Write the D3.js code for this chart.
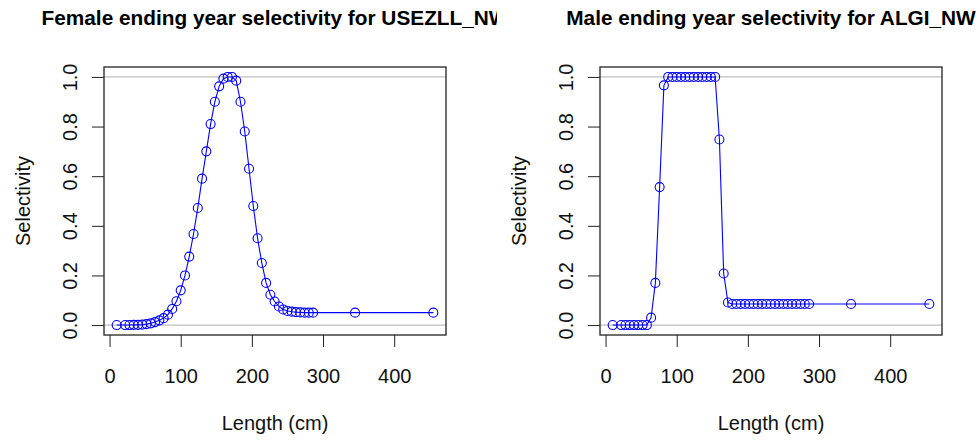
<!DOCTYPE html>
<html>
<head>
<meta charset="utf-8">
<script src="https://cdn.jsdelivr.net/npm/d3@7"></script>
<style>
  body { margin: 0; background: #fff; }
  svg { display: block; font-family: "Liberation Sans", Arial, sans-serif; }
</style>
</head>
<body>
<div id="chart"></div>
<script>
// length bins (cm)
const lengths = [10, 22, 28, 34, 40, 46, 52, 58, 64, 70, 76, 82, 88, 94, 100, 106, 112, 118, 124, 130,
  136, 142, 148, 154, 160, 166, 172, 178, 184, 190, 196, 202, 208, 214, 220, 226, 232, 238, 244, 250,
  256, 262, 268, 274, 280, 286, 345, 455];

const femaleSelectivity = [0, 0, 0, 0.001, 0.001, 0.002, 0.004, 0.007, 0.012, 0.019, 0.028, 0.042, 0.065, 0.096, 0.14, 0.2, 0.276, 0.367, 0.472, 0.59,
  0.7, 0.81, 0.9, 0.962, 0.993, 1, 1, 0.985, 0.9, 0.78, 0.63, 0.48, 0.35, 0.25, 0.17, 0.122, 0.095, 0.075, 0.063, 0.057,
  0.054, 0.052, 0.051, 0.05, 0.05, 0.05, 0.05, 0.05];

const maleSelectivity = [0, 0, 0, 0, 0, 0, 0, 0, 0.03, 0.17, 0.556, 0.966, 1, 1, 1, 1, 1, 1, 1, 1,
  1, 1, 1, 1, 0.748, 0.208, 0.091, 0.085, 0.085, 0.085, 0.085, 0.085, 0.085, 0.085, 0.085, 0.085, 0.085, 0.085, 0.085, 0.085,
  0.085, 0.085, 0.085, 0.085, 0.085, 0.085, 0.085, 0.085];

const xTicks = [0, 100, 200, 300, 400];
const yTicks = [0, 0.2, 0.4, 0.6, 0.8, 1.0];
const refLines = [0, 1];

const panels = [
  { title: "Female ending year selectivity for USEZLL_NW", values: femaleSelectivity, left: 104, right: 446, clip: 497 },
  { title: "Male ending year selectivity for ALGI_NW", values: maleSelectivity, left: 600, right: 942, clip: 977 }
];

const width = 977, height = 443;
const plotTop = 67, plotBottom = 335;

const svg = d3.select("#chart").append("svg")
  .attr("width", width)
  .attr("height", height);

panels.forEach((p, i) => {
  const x = d3.scaleLinear().domain([-7.8, 472.8]).range([p.left, p.right]);
  const y = d3.scaleLinear().domain([-0.04, 1.04]).range([plotBottom, plotTop]);
  const g = svg.append("g");

  // grey reference lines at 0 and 1
  g.selectAll(".ref")
    .data(refLines)
    .enter().append("line")
    .attr("class", "ref")
    .attr("x1", p.left).attr("x2", p.right)
    .attr("y1", d => y(d)).attr("y2", d => y(d))
    .attr("stroke", "#bebebe")
    .attr("stroke-width", 1.2);

  const pts = lengths.map((l, j) => ({ l, s: p.values[j] }));

  g.append("path")
    .datum(pts)
    .attr("fill", "none")
    .attr("stroke", "#0000ff")
    .attr("stroke-width", 1.1)
    .attr("d", d3.line().x(d => x(d.l)).y(d => y(d.s)));

  g.selectAll(".pt")
    .data(pts)
    .enter().append("circle")
    .attr("class", "pt")
    .attr("cx", d => x(d.l))
    .attr("cy", d => y(d.s))
    .attr("r", 4.5)
    .attr("fill", "none")
    .attr("stroke", "#0000ff")
    .attr("stroke-width", 1.1);

  // x axis
  const xa = g.append("g")
    .attr("transform", `translate(0,${plotBottom})`)
    .call(d3.axisBottom(x).tickValues(xTicks).tickSize(12).tickSizeOuter(0));
  xa.select(".domain").remove();
  xa.selectAll(".tick line").attr("stroke", "#222");
  xa.selectAll("text")
    .attr("y", 48).attr("dy", null)
    .attr("font-size", 20)
    .attr("font-family", null)
    .attr("fill", "#111");

  // y axis
  const ya = g.append("g")
    .attr("transform", `translate(${p.left},0)`)
    .call(d3.axisLeft(y).tickValues(yTicks).tickSize(12).tickSizeOuter(0).tickFormat(d3.format(".1f")));
  ya.select(".domain").remove();
  ya.selectAll(".tick line").attr("stroke", "#222");
  ya.selectAll("text")
    .attr("x", null).attr("dy", null)
    .attr("transform", "translate(-27,0) rotate(-90)")
    .attr("text-anchor", "middle")
    .attr("font-size", 20)
    .attr("font-family", null)
    .attr("fill", "#111");

  // frame
  g.append("rect")
    .attr("x", p.left).attr("y", plotTop)
    .attr("width", p.right - p.left).attr("height", plotBottom - plotTop)
    .attr("fill", "none")
    .attr("stroke", "#222")
    .attr("stroke-width", 1.3);

  // labels
  g.append("text")
    .attr("x", (p.left + p.right) / 2)
    .attr("y", 430)
    .attr("text-anchor", "middle")
    .attr("font-size", 20)
    .attr("fill", "#111")
    .text("Length (cm)");

  g.append("text")
    .attr("transform", `translate(${p.left - 74},${(plotTop + plotBottom) / 2}) rotate(-90)`)
    .attr("text-anchor", "middle")
    .attr("font-size", 20)
    .attr("fill", "#111")
    .text("Selectivity");

  svg.append("clipPath")
    .attr("id", `clip${i}`)
    .append("rect")
    .attr("x", i === 0 ? 0 : p.clip - 480).attr("y", 0)
    .attr("width", i === 0 ? p.clip : 480).attr("height", 60);

  g.append("text")
    .attr("clip-path", `url(#clip${i})`)
    .attr("x", (p.left + p.right) / 2)
    .attr("y", 25)
    .attr("text-anchor", "middle")
    .attr("font-size", 20.8)
    .attr("font-weight", "bold")
    .attr("fill", "#000")
    .text(p.title);
});
</script>
</body>
</html>
